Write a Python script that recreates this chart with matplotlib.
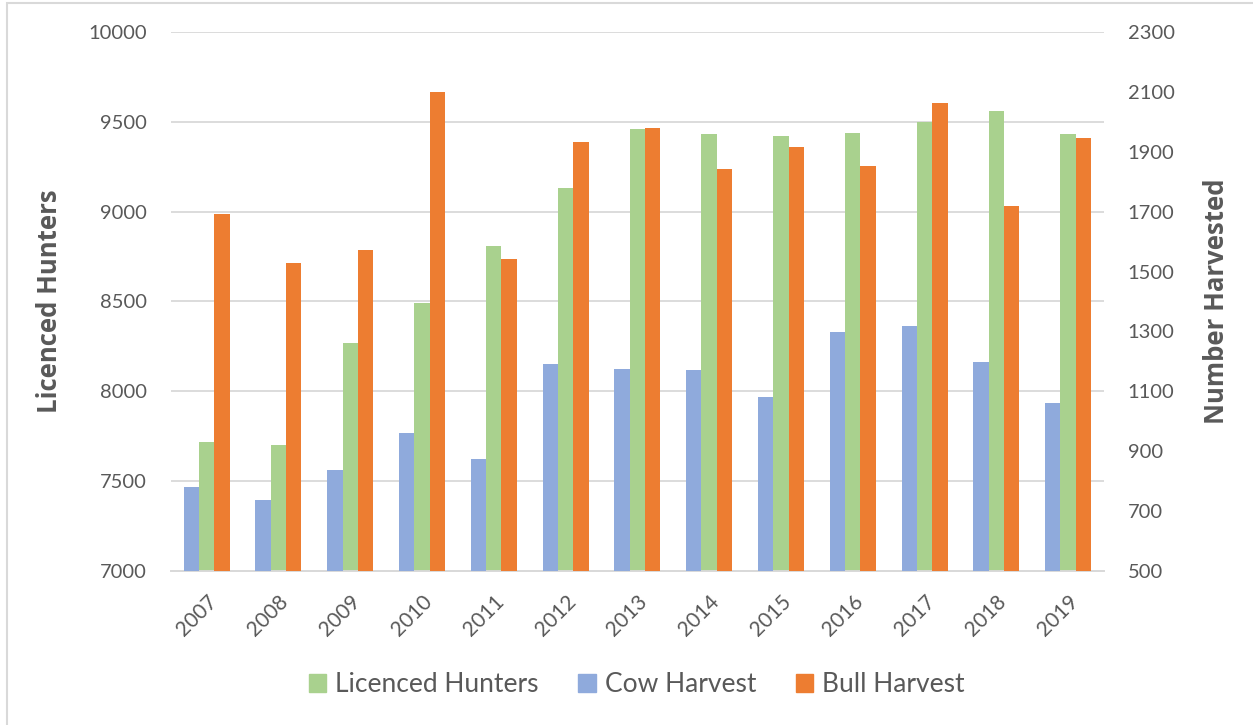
import matplotlib
matplotlib.use("Agg")
import matplotlib.pyplot as plt
from matplotlib.patches import Patch, Rectangle
import numpy as np

# data
years = ["2007", "2008", "2009", "2010", "2011", "2012", "2013",
         "2014", "2015", "2016", "2017", "2018", "2019"]
licenced_hunters = [7720, 7700, 8270, 8490, 8810, 9130, 9460,
                    9430, 9420, 9440, 9500, 9560, 9435]
cow_harvest = [780, 737, 837, 962, 873, 1190, 1173,
               1170, 1081, 1298, 1319, 1197, 1061]
bull_harvest = [1691, 1530, 1572, 2100, 1543, 1933, 1979,
                1843, 1916, 1851, 2062, 1719, 1947]

left_ticks = [7000, 7500, 8000, 8500, 9000, 9500, 10000]
right_ticks = [500, 700, 900, 1100, 1300, 1500, 1700, 1900, 2100, 2300]

GREEN = "#A9D18E"
BLUE = "#8FAADC"
ORANGE = "#ED7D31"
GREY_TXT = "#595959"
GRID = "#D9D9D9"

plt.rcParams["font.family"] = ["Lato", "DejaVu Sans"]
TITLE_FONT = ["Open Sans", "DejaVu Sans"]

W, H = 1253, 725
fig = plt.figure(figsize=(W / 100, H / 100), dpi=100)

# plot area in pixels: x 170.7..1104, y 32..571
x0, x1, y0, y1 = 170.7, 1104, 32, 571
ax = fig.add_axes([x0 / W, 1 - y1 / H, (x1 - x0) / W, (y1 - y0) / H])
ax2 = ax.twinx()

x = np.arange(len(years))
bw = 0.2135

ax.bar(x, licenced_hunters, bw, color=GREEN, zorder=3)
ax2.bar(x - bw, cow_harvest, bw, color=BLUE, zorder=3)
ax2.bar(x + bw, bull_harvest, bw, color=ORANGE, zorder=3)

ax.set_xlim(-0.5, len(years) - 0.5)
ax.set_ylim(7000, 10000)
ax2.set_ylim(500, 2300)
ax.set_yticks(left_ticks)
ax2.set_yticks(right_ticks)
ax.set_xticks(x)
ax.set_xticklabels(years, rotation=45, ha="right", rotation_mode="anchor")

ax.yaxis.grid(True, color=GRID, linewidth=1.3, zorder=0)
ax.set_axisbelow(True)

for a in (ax, ax2):
    for s in ("top", "left", "right"):
        a.spines[s].set_visible(False)
    a.spines["bottom"].set_color(GRID)
    a.spines["bottom"].set_linewidth(1.3)
    a.tick_params(length=0, labelsize=14.5, labelcolor=GREY_TXT)
ax.tick_params(axis="y", pad=17)
ax2.tick_params(axis="y", pad=17)
ax.tick_params(axis="x", pad=15, labelsize=15)

ax.set_ylabel("Licenced Hunters", fontsize=18.5, fontweight="bold",
              color=GREY_TXT, family=TITLE_FONT)
ax.yaxis.set_label_coords((63 - x0) / (x1 - x0), 0.5)
ax2.set_ylabel("Number Harvested", fontsize=18.5, fontweight="bold",
               color=GREY_TXT, rotation=90, family=TITLE_FONT)
ax2.yaxis.set_label_coords((1203 - x0) / (x1 - x0), 0.5)

handles = [Patch(color=GREEN, label="Licenced Hunters"),
           Patch(color=BLUE, label="Cow Harvest"),
           Patch(color=ORANGE, label="Bull Harvest")]
leg = fig.legend(handles=handles, loc="center", ncol=3,
                 bbox_to_anchor=(637 / W, 1 - 684.5 / H), frameon=False,
                 fontsize=19, handlelength=0.65, handleheight=0.65,
                 handletextpad=0.35, columnspacing=1.5)
for t in leg.get_texts():
    t.set_color(GREY_TXT)

# chart border (only left and top edges fall inside the image)
fig.patches.append(Rectangle((7 / W, -0.1), 1.2, 1 - 3 / H + 0.1,
                             transform=fig.transFigure, fill=False,
                             edgecolor=GRID, linewidth=1.5))

fig.savefig("out.png", dpi=100)
